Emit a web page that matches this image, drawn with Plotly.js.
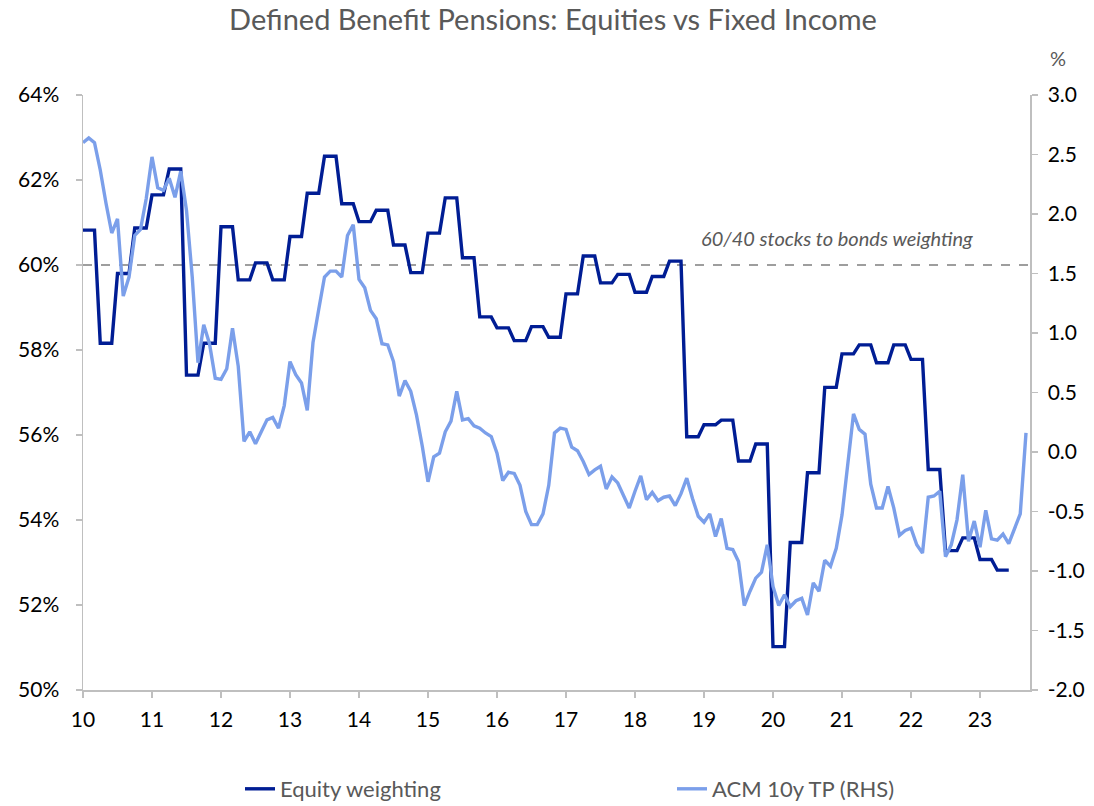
<!DOCTYPE html>
<html>
<head>
<meta charset="utf-8">
<script src="https://cdn.plot.ly/plotly-3.0.1.min.js"></script>
<style>
  html, body { margin: 0; padding: 0; background: #ffffff; }
  #chart { width: 1094px; height: 806px; }
</style>
</head>
<body>
<div id="chart"></div>
<script>
// Equity weighting (% of DB pension assets), monthly points, Jan 2010 - Jun 2023 (quarterly values held)
const equityWeighting = [
  60.82, 60.82, 60.82, 58.16, 58.16, 58.16, 59.80, 59.80, 59.80, 60.87, 60.87, 60.87,
  61.65, 61.65, 61.65, 62.26, 62.26, 62.26, 57.41, 57.41, 57.41, 58.16, 58.16, 58.16,
  60.90, 60.90, 60.90, 59.65, 59.65, 59.65, 60.05, 60.05, 60.05, 59.65, 59.65, 59.65,
  60.67, 60.67, 60.67, 61.69, 61.69, 61.69, 62.56, 62.56, 62.56, 61.44, 61.44, 61.44,
  61.02, 61.02, 61.02, 61.29, 61.29, 61.29, 60.47, 60.47, 60.47, 59.82, 59.82, 59.82,
  60.75, 60.75, 60.75, 61.58, 61.58, 61.58, 60.17, 60.17, 60.17, 58.78, 58.78, 58.78,
  58.52, 58.52, 58.52, 58.22, 58.22, 58.22, 58.55, 58.55, 58.55, 58.30, 58.30, 58.30,
  59.32, 59.32, 59.32, 60.21, 60.21, 60.21, 59.58, 59.58, 59.58, 59.78, 59.78, 59.78,
  59.36, 59.36, 59.36, 59.73, 59.73, 59.73, 60.09, 60.09, 60.09, 55.96, 55.96, 55.96,
  56.24, 56.24, 56.24, 56.35, 56.35, 56.35, 55.39, 55.39, 55.39, 55.79, 55.79, 55.79,
  51.02, 51.02, 51.02, 53.47, 53.47, 53.47, 55.11, 55.11, 55.11, 57.12, 57.12, 57.12,
  57.91, 57.91, 57.91, 58.12, 58.12, 58.12, 57.70, 57.70, 57.70, 58.12, 58.12, 58.12,
  57.78, 57.78, 57.78, 55.19, 55.19, 55.19, 53.28, 53.28, 53.28, 53.58, 53.58, 53.58,
  53.07, 53.07, 53.07, 52.82, 52.82, 52.82
];

// ACM 10y term premium (%), monthly, Jan 2010 - Sep 2023 (RHS)
const acmTermPremium = [
  2.60, 2.64, 2.60, 2.37, 2.09, 1.84, 1.96, 1.31, 1.47, 1.82, 1.87, 2.13,
  2.48, 2.22, 2.20, 2.30, 2.14, 2.36, 2.03, 1.47, 0.75, 1.07, 0.91, 0.62,
  0.61, 0.70, 1.04, 0.72, 0.09, 0.17, 0.07, 0.17, 0.27, 0.29, 0.20, 0.39,
  0.76, 0.65, 0.58, 0.35, 0.92, 1.20, 1.47, 1.52, 1.52, 1.47, 1.82, 1.91,
  1.45, 1.38, 1.19, 1.12, 0.91, 0.90, 0.76, 0.47, 0.60, 0.51, 0.31, 0.05,
  -0.25, -0.04, -0.01, 0.17, 0.26, 0.51, 0.27, 0.28, 0.22, 0.20, 0.16, 0.13,
  -0.01, -0.24, -0.17, -0.18, -0.28, -0.50, -0.61, -0.61, -0.52, -0.28, 0.16, 0.20,
  0.19, 0.04, 0.01, -0.08, -0.19, -0.15, -0.12, -0.31, -0.21, -0.26, -0.36, -0.47,
  -0.33, -0.20, -0.40, -0.34, -0.41, -0.38, -0.37, -0.45, -0.35, -0.22, -0.39, -0.54,
  -0.59, -0.52, -0.71, -0.56, -0.81, -0.82, -0.92, -1.29, -1.17, -1.06, -1.01, -0.78,
  -1.13, -1.29, -1.20, -1.30, -1.25, -1.23, -1.37, -1.10, -1.17, -0.91, -0.96, -0.81,
  -0.53, -0.12, 0.32, 0.19, 0.15, -0.27, -0.47, -0.47, -0.29, -0.47, -0.70, -0.66,
  -0.64, -0.78, -0.85, -0.38, -0.37, -0.33, -0.88, -0.78, -0.57, -0.19, -0.75, -0.58,
  -0.80, -0.49, -0.73, -0.74, -0.69, -0.77, -0.65, -0.52, 0.16
];

// Axis tick labels
const yearTicks = [10, 11, 12, 13, 14, 15, 16, 17, 18, 19, 20, 21, 22, 23];
const leftTicks = [50, 52, 54, 56, 58, 60, 62, 64];
const rightTicks = [-2.0, -1.5, -1.0, -0.5, 0.0, 0.5, 1.0, 1.5, 2.0, 2.5, 3.0];
const benchmarkLevel = 60;

// month positions (two-digit year + month/12)
const xEquity = equityWeighting.map((_, i) => 10 + i / 12);
const xAcm = acmTermPremium.map((_, i) => 10 + i / 12);

const FONT = 'Lato, "Open Sans", "DejaVu Sans", sans-serif';
const AXIS_GREY = '#bfbfbf';
const TEXT_GREY = '#595959';

const traces = [
  {
    x: xEquity, y: equityWeighting, name: 'Equity weighting',
    type: 'scatter', mode: 'lines', yaxis: 'y', legend: 'legend',
    line: { color: '#001d94', width: 3.4 },
    hoverinfo: 'skip'
  },
  {
    x: xAcm, y: acmTermPremium, name: 'ACM 10y TP (RHS)',
    type: 'scatter', mode: 'lines', yaxis: 'y2', legend: 'legend2',
    line: { color: '#7b9fea', width: 3.4 },
    hoverinfo: 'skip'
  }
];

const xMax = 10 + (1030 - 83) / 69;
const legendCommon = {
  orientation: 'h',
  xanchor: 'left', yanchor: 'middle',
  y: (690 - 789) / 595,
  font: { family: FONT, size: 22, color: TEXT_GREY },
  bgcolor: 'rgba(0,0,0,0)', borderwidth: 0
};

const layout = {
  width: 1094, height: 806,
  paper_bgcolor: '#ffffff', plot_bgcolor: '#ffffff',
  margin: { l: 83, r: 64, t: 95, b: 116, autoexpand: false },
  font: { family: FONT, size: 18, color: '#000000' },
  title: {
    text: 'Defined Benefit Pensions: Equities vs Fixed Income',
    font: { family: FONT, size: 29, color: TEXT_GREY },
    xref: 'container', x: 553 / 1094, xanchor: 'center',
    yref: 'container', y: 1 - 20 / 806, yanchor: 'middle'
  },
  showlegend: true,
  legend: Object.assign({}, legendCommon, { x: (240 - 83) / 947 }),
  legend2: Object.assign({}, legendCommon, { x: (672 - 83) / 947 }),
  xaxis: {
    range: [10, xMax],
    tickvals: yearTicks,
    ticktext: yearTicks.map(String),
    showgrid: false, zeroline: false,
    showline: true, linecolor: AXIS_GREY, linewidth: 1.5,
    ticks: 'outside', ticklen: 6, tickcolor: AXIS_GREY, tickwidth: 1.5,
    ticklabelstandoff: 4,
    tickfont: { family: FONT, size: 21, color: '#000000' }
  },
  yaxis: {
    range: [50, 64],
    tickvals: leftTicks,
    ticktext: leftTicks.map(v => v + '%'),
    showgrid: false, zeroline: false,
    showline: true, linecolor: AXIS_GREY, linewidth: 1.5,
    ticks: 'outside', ticklen: 6, tickcolor: AXIS_GREY, tickwidth: 1.5,
    ticklabelstandoff: 12,
    tickfont: { family: FONT, size: 21, color: '#000000' }
  },
  yaxis2: {
    range: [-2, 3],
    overlaying: 'y', side: 'right',
    tickvals: rightTicks,
    ticktext: rightTicks.map(v => v.toFixed(1)),
    showgrid: false, zeroline: false,
    showline: true, linecolor: AXIS_GREY, linewidth: 1.5,
    ticks: 'outside', ticklen: 6, tickcolor: AXIS_GREY, tickwidth: 1.5,
    ticklabelstandoff: 6,
    tickfont: { family: FONT, size: 21, color: '#000000' }
  },
  shapes: [
    {
      type: 'line', xref: 'paper', yref: 'y',
      x0: 0, x1: 1, y0: benchmarkLevel, y1: benchmarkLevel,
      line: { color: '#7f7f7f', width: 1.6, dash: 'dash' },
      layer: 'below'
    }
  ],
  annotations: [
    {
      text: '<i>60/40 stocks to bonds weighting</i>',
      xref: 'paper', yref: 'y',
      x: (837 - 83) / 947, y: 60.64,
      xanchor: 'center', yanchor: 'middle',
      showarrow: false,
      font: { family: FONT, size: 20, color: TEXT_GREY }
    },
    {
      text: '%',
      xref: 'paper', yref: 'paper',
      x: (1058 - 83) / 947, y: (690 - 58) / 595,
      xanchor: 'center', yanchor: 'middle',
      showarrow: false,
      font: { family: FONT, size: 20, color: TEXT_GREY }
    }
  ]
};

Plotly.newPlot('chart', traces, layout, { displayModeBar: false, staticPlot: true });
</script>
</body>
</html>
